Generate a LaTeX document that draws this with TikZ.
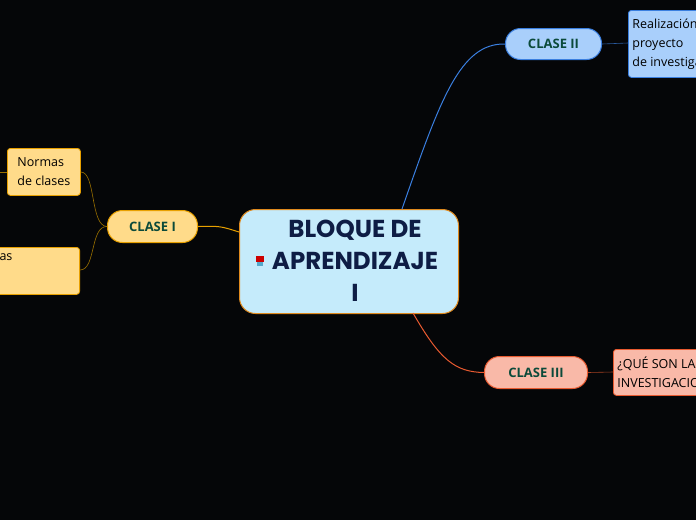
\documentclass[tikz,border=0pt]{standalone}
\usepackage{fontspec}
\setmainfont{Open Sans}
\newfontfamily\titlefont{Poppins}
\definecolor{bg}{HTML}{050608}
\definecolor{cblue}{HTML}{C5EBFB}
\definecolor{corange}{HTML}{E08A1E}
\definecolor{yfill}{HTML}{FFDB8A}
\definecolor{yline}{HTML}{E8A000}
\definecolor{bfill}{HTML}{A9CFFB}
\definecolor{bline}{HTML}{3A7FE0}
\definecolor{rfill}{HTML}{F9B9A8}
\definecolor{rline}{HTML}{E85A30}
\definecolor{tgreen}{HTML}{0B4A3A}
\definecolor{navy}{HTML}{0E1D45}
\definecolor{gold}{HTML}{9A7000}
\begin{document}
\begin{tikzpicture}[x=1pt,y=-1pt,
  pill/.style={draw,line width=1pt,rounded corners=15pt,font=\fontsize{13}{15}\selectfont\bfseries,text=tgreen,anchor=north west,align=center},
  leaf/.style={draw,line width=0.8pt,rounded corners=3pt,font=\fontsize{12.5}{19}\selectfont,text=black,anchor=north west,align=left,inner sep=4pt}]
\useasboundingbox (0,0) rectangle (696,520);
\clip (0,0) rectangle (696,520);
\fill[bg] (0,0) rectangle (696,520);
\node[draw=corange,fill=cblue,line width=1pt,rounded corners=16pt,minimum width=219pt,minimum height=104pt,anchor=north west] (c) at (239,209) {};
\node[font=\titlefont\fontsize{24.5}{32}\selectfont\bfseries,text=navy,align=center] (ct) at (355,261) {BLOQUE DE\\APRENDIZAJE\\I};
\fill[red!80!black] (256,256) rectangle (264,262);
\fill[cyan!60!gray] (257,262) rectangle (263,266);
\node[pill,fill=yfill,draw=yline,minimum width=90pt,minimum height=32pt] (c1) at (107,210) {CLASE I};
\node[pill,fill=bfill,draw=bline,minimum width=96pt,minimum height=31pt] (c2) at (505,28) {CLASE II};
\node[pill,fill=rfill,draw=rline,minimum width=103pt,minimum height=32pt] (c3) at (484,356) {CLASE III};
\node[leaf,fill=yfill,draw=yline,minimum width=73pt,minimum height=47pt] (n1) at (7,148) {Normas\\de clases};
\node[leaf,fill=yfill,draw=yline,minimum width=100pt,minimum height=47pt,anchor=north east] (n2) at (80,247) {};
\node[font=\fontsize{12.5}{19}\selectfont,anchor=north west] (n2t) at (-4,250) {as};
\node[leaf,fill=bfill,draw=bline,minimum height=67pt,anchor=north west] (r) at (628,10) {Realización del\\proyecto\\de investigación};
\node[leaf,fill=rfill,draw=rline,minimum height=46pt,anchor=north west] (q) at (613,349) {¿QUÉ SON LAS\\INVESTIGACIONES?};
\coordinate (off) at (-5,172);
\draw[bline,line width=1pt] (402,209) .. controls (440,100) and (460,43) .. (c2.west);
\draw[rline,line width=1pt] (413,313) .. controls (440,360) and (455,372) .. (c3.west);
\draw[yline,line width=1pt] (239,232) .. controls (220,226) .. (c1.east);
\draw[gold,line width=0.6pt] (c1.west) .. controls (90,226) and (96,172) .. (n1.east |- 0,172);
\draw[gold,line width=0.6pt] (c1.west) .. controls (90,226) and (96,270) .. (80,270);
\draw[gold,line width=0.6pt] (n1.west |- 0,172) -- (off);
\draw[bline!70!black,line width=0.6pt] (c2.east) -- (628,43);
\draw[rline!70!black,line width=0.6pt] (c3.east) -- (613,372);
\end{tikzpicture}
\end{document}
